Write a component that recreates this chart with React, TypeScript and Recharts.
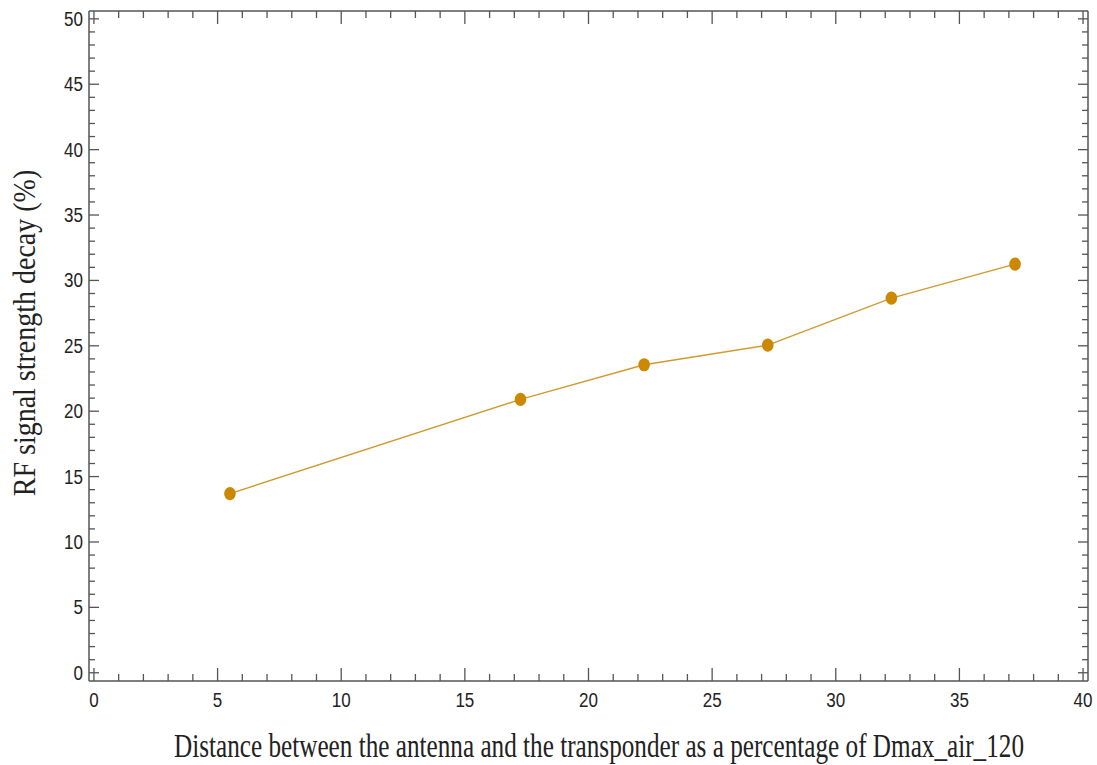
import React from 'react';
import { LineChart, Line, XAxis, YAxis, Label } from 'recharts';

// distance (% of Dmax_air_120) and decay (%)
const distances = [5.5, 17.25, 22.25, 27.25, 32.25, 37.25];
const decay = [13.7, 20.9, 23.55, 25.05, 28.65, 31.25];

const xTicks = Array.from({ length: 41 }, (_, i) => i);
const yTicks = Array.from({ length: 51 }, (_, i) => i);

const data = distances.map((d, i) => ({ distance: d, decay: decay[i] }));

const frame = '#555555';
const tickFont = { fontFamily: '"Liberation Sans", Arial, sans-serif', fontSize: 17, fill: '#222' };
const titleFont = { fontFamily: '"Liberation Serif", "Times New Roman", serif', fill: '#222' };

const isMajor = (v: number) => v % 5 === 0;

// tick labels in the source look a little taller than wide
const TallText = ({ x, y, anchor, children }: any) => (
  <text transform={`translate(${x} ${y}) scale(1 1.17)`} textAnchor={anchor} {...tickFont}>
    {children}
  </text>
);

const BottomTick = ({ x, y, payload }: any) => (
  <g>
    <line x1={x} x2={x} y1={y} y2={y - (isMajor(payload.value) ? 13 : 7)} stroke={frame} strokeWidth={1.3} />
    {isMajor(payload.value) && (
      <TallText x={x} y={y + 25.5} anchor="middle">
        {payload.value}
      </TallText>
    )}
  </g>
);

const TopTick = ({ x, y, payload }: any) => (
  <line x1={x} x2={x} y1={y} y2={y + (isMajor(payload.value) ? 13 : 7)} stroke={frame} strokeWidth={1.3} />
);

const LeftTick = ({ x, y, payload }: any) => (
  <g>
    <line x1={x} x2={x + (isMajor(payload.value) ? 10 : 6)} y1={y} y2={y} stroke={frame} strokeWidth={1.3} />
    {isMajor(payload.value) && (
      <TallText x={x - 6} y={y + 7} anchor="end">
        {payload.value}
      </TallText>
    )}
  </g>
);

const RightTick = ({ x, y, payload }: any) => (
  <line x1={x} x2={x - (isMajor(payload.value) ? 10 : 6)} y1={y} y2={y} stroke={frame} strokeWidth={1.3} />
);

const Dot = ({ cx, cy }: any) => <ellipse cx={cx} cy={cy} rx={5.8} ry={6.6} fill="#CC8800" />;

export default function App() {
  return (
    <div style={{ position: 'absolute', left: 0, top: 0, width: 1097, height: 765, background: '#fff' }}>
      <LineChart width={1097} height={765} data={data} margin={{ top: 10, right: 8, bottom: 44, left: 29 }}>
        <XAxis
          dataKey="distance"
          type="number"
          domain={[-0.2, 40.2]}
          ticks={xTicks}
          interval={0}
          height={40}
          tickSize={0}
          tickMargin={0}
          tickLine={false}
          tick={<BottomTick />}
          axisLine={{ stroke: frame, strokeWidth: 1.5 }}
        >
          <Label
            content={() => (
              <text
                transform="translate(599 757) scale(1 1.3)"
                textAnchor="middle"
                fontSize={25.2}
                {...titleFont}
              >
                Distance between the antenna and the transponder as a percentage of Dmax_air_120
              </text>
            )}
          />
        </XAxis>
        <XAxis
          xAxisId="top"
          orientation="top"
          dataKey="distance"
          type="number"
          domain={[-0.2, 40.2]}
          ticks={xTicks}
          interval={0}
          height={1}
          tickSize={0}
          tickMargin={0}
          tickLine={false}
          tick={<TopTick />}
          axisLine={{ stroke: frame, strokeWidth: 1.5 }}
        />
        <YAxis
          type="number"
          domain={[-0.63, 50.6]}
          ticks={yTicks}
          interval={0}
          width={60}
          tickSize={0}
          tickMargin={0}
          tickLine={false}
          tick={<LeftTick />}
          axisLine={{ stroke: frame, strokeWidth: 1.5 }}
        >
          <Label
            content={() => (
              <text
                transform="translate(24 333) rotate(-90) scale(1 1.1)"
                textAnchor="middle"
                dy="0.35em"
                fontSize={28}
                {...titleFont}
              >
                RF signal strength decay (%)
              </text>
            )}
          />
        </YAxis>
        <YAxis
          yAxisId="right"
          orientation="right"
          type="number"
          domain={[-0.63, 50.6]}
          ticks={yTicks}
          interval={0}
          width={1}
          tickSize={0}
          tickMargin={0}
          tickLine={false}
          tick={<RightTick />}
          axisLine={{ stroke: frame, strokeWidth: 1.5 }}
        />
        {/* invisible copy so the mirrored frame axes get a scale */}
        <Line
          xAxisId="top"
          yAxisId="right"
          dataKey="decay"
          stroke="none"
          dot={false}
          activeDot={false}
          legendType="none"
          isAnimationActive={false}
        />
        <Line
          dataKey="decay"
          type="linear"
          stroke="#D09A2E"
          strokeWidth={1.4}
          dot={<Dot />}
          activeDot={false}
          isAnimationActive={false}
        />
      </LineChart>
    </div>
  );
}
